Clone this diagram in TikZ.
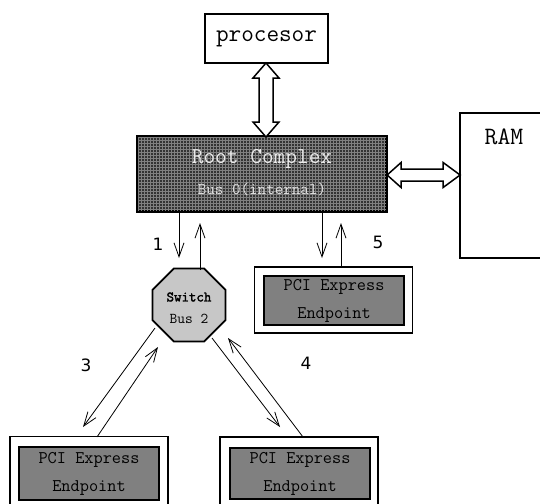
\documentclass[tikz,border=0pt]{standalone}
\usepackage{fontspec}
\newfontfamily\numfont{DejaVu Sans}
\newfontfamily\swfont{Latin Modern Mono}[FakeBold=2]
\usetikzlibrary{arrows.meta,shapes.geometric,patterns}
\begin{document}
\begin{tikzpicture}[x=1pt,y=-1pt,
  arr/.style={-{Straight Barb[length=14pt,width=10pt]}, line width=0.8pt},
  box/.style={draw, rectangle, inner sep=0pt, fill=white},
  outerbox/.style={box, line width=1.8pt, minimum width=158pt},
  innerbox/.style={draw, rectangle, inner sep=0pt, fill=black!50, line width=1.2pt,
     minimum width=140pt, font=\ttfamily\fontsize{17.8}{28}\selectfont, align=center},
  dbl/.style={draw, fill=white, line width=1.5pt, line join=miter},
  num/.style={font=\numfont\fontsize{17}{17}\selectfont, inner sep=0pt}]
\useasboundingbox (0,0) rectangle (540,503);
\clip (0,0) rectangle (540,503);

% processor
\node[box, line width=1.5pt, minimum width=123pt, minimum height=49pt,
      font=\ttfamily\fontsize{24.5}{25}\selectfont] (proc) at (266.5,38.5) {procesor};

% root complex
\node[draw, rectangle, line width=2.2pt, minimum width=248pt, minimum height=74pt,
      inner sep=0pt, fill=black!80] (rc) at (262,174) {};
\fill[pattern=grid, pattern color=black!50] (rc.north west) rectangle (rc.south east);
\draw[line width=2.2pt] (rc.north west) rectangle (rc.south east);
\node[text=black!8, font=\ttfamily\fontsize{22.7}{23}\selectfont, inner sep=0pt] (rctitle) at (262,159) {Root Complex};
\node[text=black!12, font=\ttfamily\fontsize{16.6}{17}\selectfont, inner sep=0pt] (rcbus) at (262,189) {Bus 0(internal)};

% RAM
\node[box, line width=1.5pt, minimum width=100pt, minimum height=145pt] (ram) at (510,185.5) {};
\node[font=\ttfamily\fontsize{25}{25}\selectfont, inner sep=0pt] (ramlbl) at (504,137) {RAM};

% double arrows
\begin{scope}[shift={(266,63)}]
  \draw[dbl] (0,0) -- (13,15) -- (7,15) -- (7,59) -- (13,59) -- (0,74) -- (-13,59)
     -- (-7,59) -- (-7,15) -- (-13,15) -- cycle;
\end{scope}
\begin{scope}[shift={(rc.east)}]
  \draw[dbl] (0,1) -- (14,-11.5) -- (14,-5) -- (56,-5) -- (56,-11.5) -- (73,1) -- (56,13.5)
     -- (56,7) -- (14,7) -- (14,13.5) -- cycle;
\end{scope}

% switch
\node[draw, regular polygon, regular polygon sides=8, minimum size=79pt, inner sep=0pt,
      line width=1.8pt, fill=black!22] (sw) at (189,305) {};
\node[font=\swfont\fontsize{14.5}{15}\selectfont, inner sep=0pt] (swt) at (189,297) {Switch};
\node[font=\ttfamily\fontsize{15}{15}\selectfont, inner sep=0pt] (swb) at (189,319) {Bus 2};

% endpoint 5
\node[outerbox, minimum height=66pt] (ep5o) at (333.5,300) {};
\node[innerbox, minimum height=49pt] (ep5) at (334,300.5) {PCI Express\\Endpoint};

% endpoint bottom left
\node[outerbox, minimum height=90pt] (ep3o) at (89,481.5) {};
\node[innerbox, minimum height=53pt] (ep3) at (89,473.5) {PCI Express\\Endpoint};

% endpoint bottom right
\node[outerbox, minimum height=90pt] (ep4o) at (299,482) {};
\node[innerbox, minimum height=51pt] (ep4) at (300,473.5) {PCI Express\\Endpoint};

% connector coordinates
\coordinate (c1a) at (179,211); \coordinate (c1b) at (179,258);
\coordinate (c1c) at (200,270); \coordinate (c1d) at (200,223);
\coordinate (c5a) at (322,211); \coordinate (c5b) at (322,258);
\coordinate (c5c) at (341,267); \coordinate (c5d) at (341,223);
\coordinate (c3a) at (155,328); \coordinate (c3b) at (83,427);
\coordinate (c3c) at (97,437);  \coordinate (c3d) at (158,347);
\coordinate (c4a) at (212,338); \coordinate (c4b) at (280,427);
\coordinate (c4c) at (303,437); \coordinate (c4d) at (228,338);

\draw[arr] (c1a) -- (c1b);
\draw[arr] (c1c) -- (c1d);
\draw[arr] (c5a) -- (c5b);
\draw[arr] (c5c) -- (c5d);
\draw[arr] (c3a) -- (c3b);
\draw[arr] (c3c) -- (c3d);
\draw[arr] (c4a) -- (c4b);
\draw[arr] (c4c) -- (c4d);

% labels
\node[num] (l1) at (158,244) {1};
\node[num] (l5) at (378,242) {5};
\node[num] (l3) at (86,365) {3};
\node[num] (l4) at (306,363) {4};
\end{tikzpicture}
\end{document}
